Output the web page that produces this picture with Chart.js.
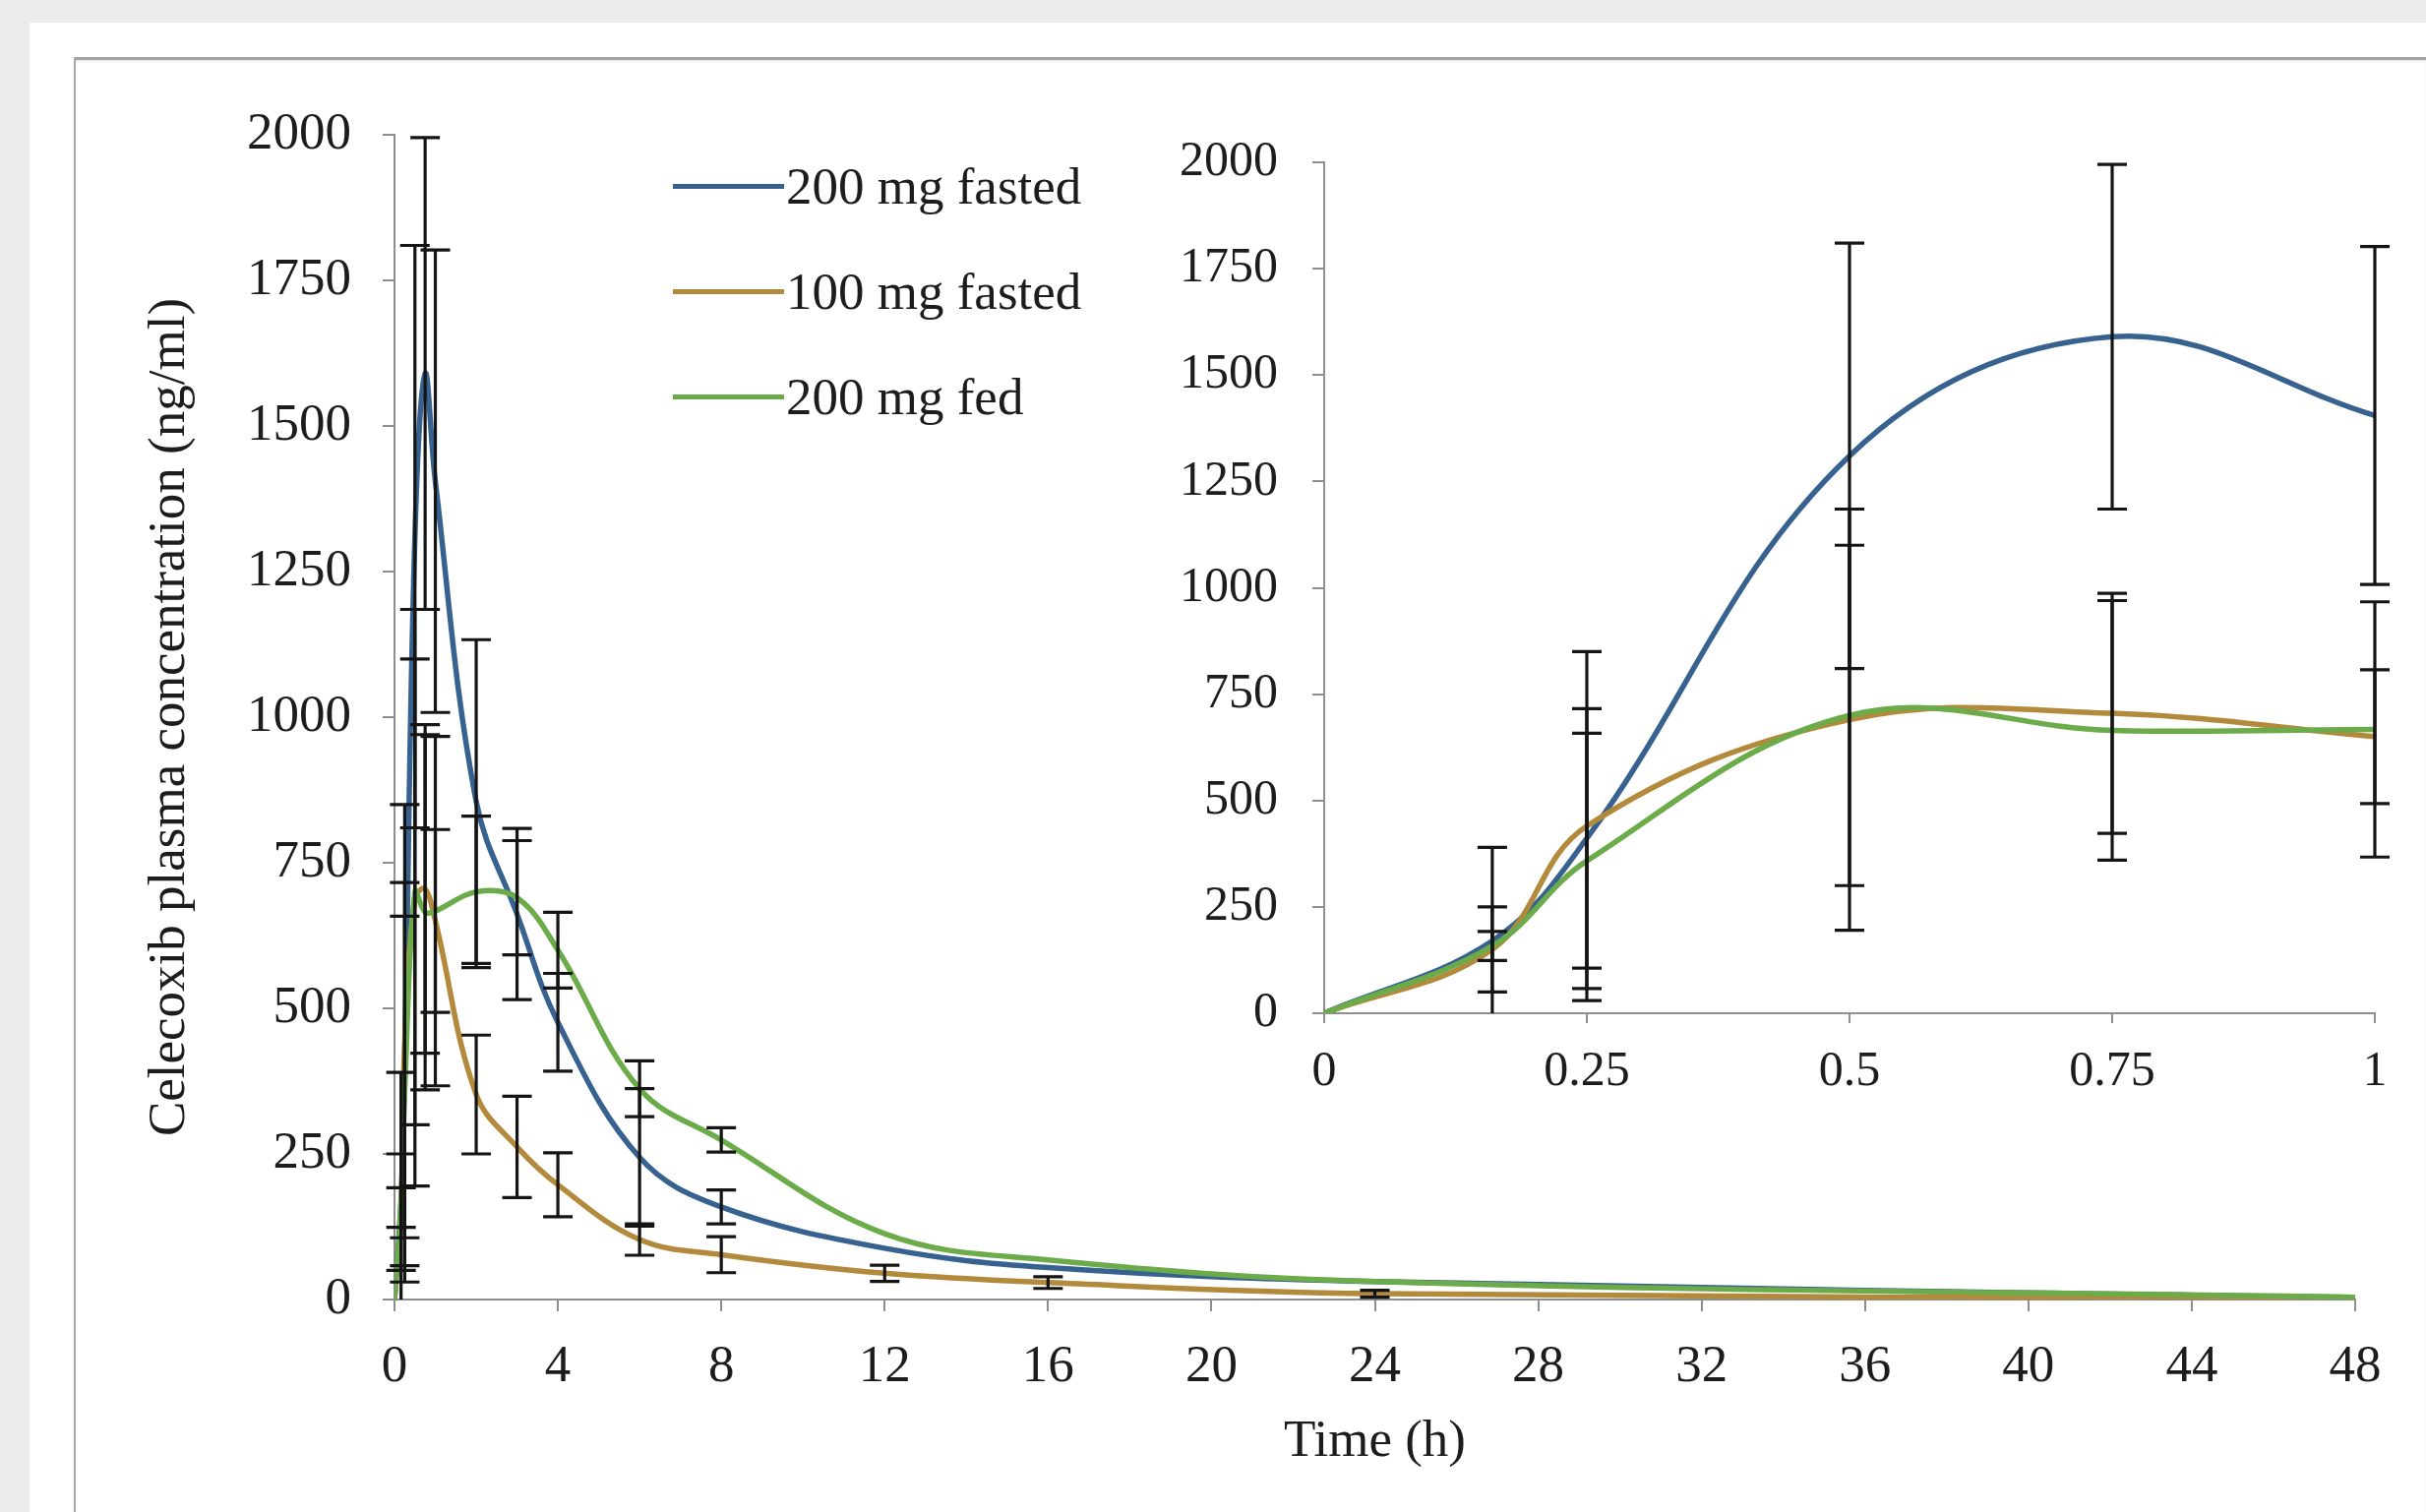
<!DOCTYPE html>
<html>
<head>
<meta charset="utf-8">
<script src="https://cdn.jsdelivr.net/npm/chart.js@4.4.1/dist/chart.umd.min.js"></script>
<style>
  html, body { margin:0; padding:0; width:2466px; height:1537px; overflow:hidden; background:#ebebeb; }
  #panel { position:absolute; left:30px; top:23px; right:0; bottom:0; background:#ffffff; }
  #frame { position:absolute; left:75px; top:58px; right:0; bottom:0; border-top:3px solid #a2a2a2; border-left:2px solid #a8a8a8; box-shadow: inset 0 2px 2px rgba(0,0,0,0.08); }
  .wrap { position:absolute; left:0; top:0; width:2466px; height:1537px; }
  canvas { position:absolute; left:0; top:0; }
  #legend { position:absolute; left:684px; top:0; font-family:"Liberation Serif", "Times New Roman", serif; font-size:53px; color:#1c1c1c; }
  .item { position:absolute; left:0; height:64px; display:flex; align-items:center; white-space:nowrap; }
  .swatch { display:inline-block; width:113px; height:5px; margin-right:2px; }
</style>
</head>
<body>
<div id="panel"></div>
<div id="frame"></div>
<div class="wrap"><canvas id="mainChart" width="2466" height="1537"></canvas></div>
<div class="wrap"><canvas id="insetChart" width="2466" height="1537"></canvas></div>
<div id="legend"></div>
<script>
// ---- data ----
const times       = [0, 0.16, 0.25, 0.5, 0.75, 1, 2, 3, 4, 6, 8, 12, 16, 24, 48];
const fasted200   = [0, 170, 411, 1310, 1590, 1405, 855, 662, 476, 244, 159, 88, 55, 31, 3];
const fasted200Sd = [0, 220, 305, 500, 405, 397, 278, 147, 84, 118, 29, 0, 0, 0, 0];
const fasted100   = [0, 150, 440, 690, 705, 650, 352, 262, 197, 103, 77, 45, 29, 10, 2];
const fasted100Sd = [0, 100, 410, 495, 282, 157, 102, 87, 55, 27, 31, 14, 10, 6, 0];
const fed200      = [0, 158, 358, 700, 665, 667, 700, 690, 600, 362, 274, 113, 68, 31, 4];
const fed200Sd    = [0, 34, 300, 400, 305, 300, 130, 98, 65, 48, 21, 0, 0, 0, 0];

const seriesLabels = ['200 mg fasted', '100 mg fasted', '200 mg fed'];
const seriesColors = ['#37618f', '#b38a3c', '#6cab4a'];

const mainXTicks  = [0, 4, 8, 12, 16, 20, 24, 28, 32, 36, 40, 44, 48];
const mainYTicks  = [0, 250, 500, 750, 1000, 1250, 1500, 1750, 2000];
const insetXTicks = [0, 0.25, 0.5, 0.75, 1];
const insetYTicks = [0, 250, 500, 750, 1000, 1250, 1500, 1750, 2000];

const xTitle = 'Time (h)';
const yTitle = 'Celecoxib plasma concentration (ng/ml)';

// ---- helpers ----
const FONT = '"Liberation Serif", "Times New Roman", serif';
const TEXT = '#1c1c1c';
const AXIS = '#8e8e8e';

function makeDatasets(maxT) {
  const idx = times.map((t, i) => i).filter(i => times[i] <= maxT);
  const build = (vals, sds, k, order) => ({
    label: seriesLabels[k],
    data: idx.map(i => ({ x: times[i], y: vals[i] })),
    errorBars: idx.map(i => sds[i]),
    borderColor: seriesColors[k],
    backgroundColor: seriesColors[k],
    borderWidth: 5.5,
    pointRadius: 0,
    tension: 0.38,
    fill: false,
    order: order
  });
  return [
    build(fasted200, fasted200Sd, 0, 2),
    build(fasted100, fasted100Sd, 1, 1),
    build(fed200, fed200Sd, 2, 0)
  ];
}

const errorBarPlugin = {
  id: 'errorBars',
  afterDatasetsDraw(chart) {
    const { ctx, chartArea, scales } = chart;
    const xs = scales.x, ys = scales.y;
    ctx.save();
    ctx.beginPath();
    ctx.rect(chartArea.left - 30, chartArea.top - 30, chartArea.width + 60, chartArea.height + 30);
    ctx.clip();
    ctx.strokeStyle = '#141414';
    ctx.lineWidth = 3.2;
    const cap = 15;
    chart.data.datasets.forEach(ds => {
      ds.data.forEach((p, i) => {
        const e = ds.errorBars[i];
        if (!e) return;
        const px = xs.getPixelForValue(p.x);
        const yt = ys.getPixelForValue(p.y + e);
        const yb = ys.getPixelForValue(p.y - e);
        ctx.beginPath();
        ctx.moveTo(px, yt); ctx.lineTo(px, yb);
        ctx.moveTo(px - cap, yt); ctx.lineTo(px + cap, yt);
        ctx.moveTo(px - cap, yb); ctx.lineTo(px + cap, yb);
        ctx.stroke();
      });
    });
    ctx.restore();
  }
};

function axisCommon(tickList, fontSize, tickLen, pad) {
  return {
    type: 'linear',
    afterBuildTicks: s => { s.ticks = tickList.map(v => ({ value: v })); },
    grid: { display: true, drawOnChartArea: false, drawTicks: true, tickLength: tickLen, color: AXIS, lineWidth: 2 },
    border: { display: true, color: AXIS, width: 2 },
    ticks: { font: { family: FONT, size: fontSize }, color: TEXT, padding: pad, maxRotation: 0, autoSkip: false,
             callback: v => String(v) }
  };
}

// ---- main chart ----
const mainX = axisCommon(mainXTicks, 53, 12, 25);
mainX.min = 0; mainX.max = 48;
mainX.afterFit = s => { s.height = 216; };
mainX.title = { display: true, text: xTitle, font: { family: FONT, size: 53 }, color: TEXT, padding: { top: 0, bottom: 39 } };

const mainY = axisCommon(mainYTicks, 53, 12, 32);
mainY.min = 0; mainY.max = 2000;
mainY.afterFit = s => { s.width = 401; };
mainY.title = { display: true, text: yTitle, font: { family: FONT, size: 53 }, color: TEXT, padding: { top: 141, bottom: 0 } };

const mainChart = new Chart(document.getElementById('mainChart'), {
  type: 'line',
  data: { datasets: makeDatasets(48) },
  options: {
    responsive: false, animation: false, events: [],
    layout: { padding: { left: 0, top: 137, right: 72, bottom: 0 } },
    plugins: { legend: { display: false }, tooltip: { enabled: false } },
    scales: { x: mainX, y: mainY }
  },
  plugins: [errorBarPlugin]
});

// ---- inset chart ----
const insetX = axisCommon(insetXTicks, 50, 10, 20);
insetX.min = 0; insetX.max = 1;
insetX.afterFit = s => { s.height = 100; };
const insetY = axisCommon(insetYTicks, 50, 12, 35);
insetY.min = 0; insetY.max = 2000;
insetY.afterFit = s => { s.width = 200; };

const insetChart = new Chart(document.getElementById('insetChart'), {
  type: 'line',
  data: { datasets: makeDatasets(1) },
  options: {
    responsive: false, animation: false, events: [],
    layout: { padding: { left: 1146, top: 165, right: 52, bottom: 407 } },
    plugins: { legend: { display: false }, tooltip: { enabled: false } },
    scales: { x: insetX, y: insetY }
  },
  plugins: [errorBarPlugin]
});

// ---- legend (HTML, from the dataset definitions) ----
const legendTops = [157, 264, 371];
const legend = document.getElementById('legend');
mainChart.data.datasets.forEach((ds, k) => {
  const item = document.createElement('div');
  item.className = 'item';
  item.style.top = legendTops[k] + 'px';
  const sw = document.createElement('span');
  sw.className = 'swatch';
  sw.style.background = ds.borderColor;
  const tx = document.createElement('span');
  tx.textContent = ds.label;
  item.appendChild(sw); item.appendChild(tx);
  legend.appendChild(item);
});
</script>
</body>
</html>
